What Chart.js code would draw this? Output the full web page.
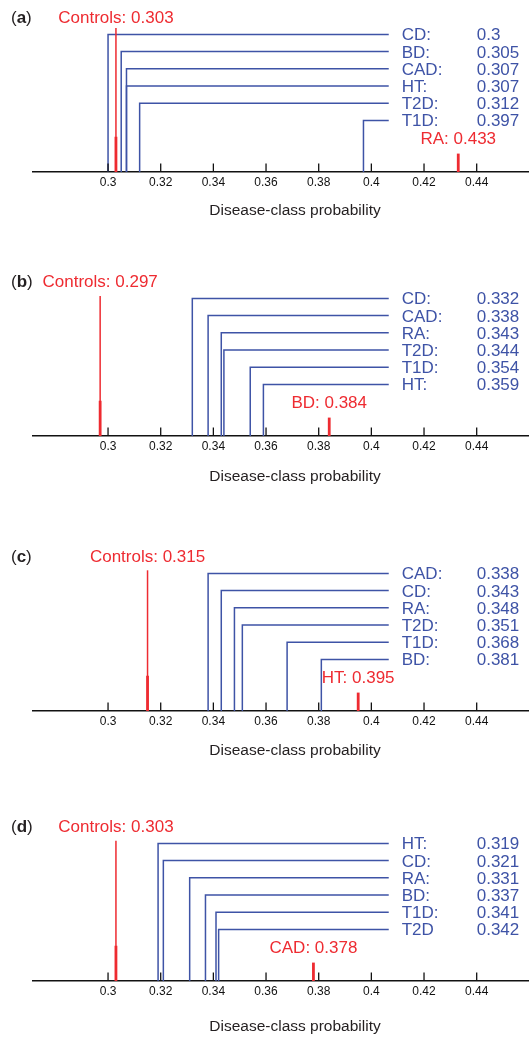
<!DOCTYPE html>
<html>
<head>
<meta charset="utf-8">
<script src="https://cdn.jsdelivr.net/npm/chart.js@4.4.1/dist/chart.umd.min.js"></script>
<style>
  html, body { margin: 0; padding: 0; background: #fff; }
  #page { position: relative; width: 529px; height: 1037px; overflow: hidden; }
  #page canvas { position: absolute; left: 0; }
</style>
</head>
<body>
<div id="page">
  <canvas id="panel-0" width="560" height="242" style="top:0px"></canvas>
  <canvas id="panel-1" width="560" height="242" style="top:264px"></canvas>
  <canvas id="panel-2" width="560" height="242" style="top:539px"></canvas>
  <canvas id="panel-3" width="560" height="242" style="top:809px"></canvas>
</div>
<script>
// x axis
const tickValues = [0.3, 0.32, 0.34, 0.36, 0.38, 0.4, 0.42, 0.44];
const tickLabels = ['0.3', '0.32', '0.34', '0.36', '0.38', '0.4', '0.42', '0.44'];
const axisTitle = 'Disease-class probability';
const xMin = 0.2715;
const xMax = 0.4705;
const bracketEnd = 0.4066;

// panel letters
const panelTags = ['a', 'b', 'c', 'd'];

// controls (red) in each panel
const controlsValues = [0.303, 0.297, 0.315, 0.303];
const controlsLineTop = [8.37, 8.14, 8.18, 8.16];

// best scoring class (red) in each panel
const topNames = ['RA', 'BD', 'HT', 'CAD'];
const topValues = [0.433, 0.384, 0.395, 0.378];

// remaining classes (blue), top to bottom
const namesA = ['CD:', 'BD:', 'CAD:', 'HT:', 'T2D:', 'T1D:'];
const valuesA = [0.3, 0.305, 0.307, 0.307, 0.312, 0.397];
const namesB = ['CD:', 'CAD:', 'RA:', 'T2D:', 'T1D:', 'HT:'];
const valuesB = [0.332, 0.338, 0.343, 0.344, 0.354, 0.359];
const namesC = ['CAD:', 'CD:', 'RA:', 'T2D:', 'T1D:', 'BD:'];
const valuesC = [0.338, 0.343, 0.348, 0.351, 0.368, 0.381];
const namesD = ['HT:', 'CD:', 'RA:', 'BD:', 'T1D:', 'T2D'];
const valuesD = [0.319, 0.321, 0.331, 0.337, 0.341, 0.342];

const classNames = [namesA, namesB, namesC, namesD];
const classValues = [valuesA, valuesB, valuesC, valuesD];

// title spacing per panel
const titlePad = [21.7, 20, 21.4, 15];

const RED = '#ee2b31';
const BLUE = '#3e53a6';
const FONT = '"Liberation Sans", Arial, Helvetica, sans-serif';

function textAt(ctx, text, x, cy, size, color, align, weight) {
    // cy is the middle of the capitals
    ctx.font = (weight || 'normal') + ' ' + size + 'px ' + FONT;
    ctx.fillStyle = color;
    ctx.textAlign = align || 'left';
    ctx.textBaseline = 'alphabetic';
    ctx.fillText(text, x, cy + size * 0.716 / 2);
}

const labelPlugin = {
    id: 'classLabels',
    afterDraw(chart, args, opts) {
        const ctx = chart.ctx;
        const xs = chart.scales.x;
        const ys = chart.scales.y;
        const p = opts.panel;
        const axisY = ys.getPixelForValue(0);
        ctx.save();

        // tick marks pointing up
        ctx.strokeStyle = '#111';
        ctx.lineWidth = 1.3;
        xs.ticks.forEach(t => {
            const px = xs.getPixelForValue(t.value);
            ctx.beginPath();
            ctx.moveTo(px, axisY);
            ctx.lineTo(px, axisY - 8.5);
            ctx.stroke();
        });

        // panel tag "(a)"
        const tagY = ys.getPixelForValue(9.0);
        let tx = 11;
        ctx.font = '17px ' + FONT;
        textAt(ctx, '(', tx, tagY, 17, '#231f20');
        tx += ctx.measureText('(').width;
        textAt(ctx, panelTags[p], tx, tagY, 17, '#231f20', 'left', 'bold');
        tx += ctx.measureText(panelTags[p]).width;
        textAt(ctx, ')', tx, tagY, 17, '#231f20');

        // red labels
        textAt(ctx, 'Controls: ' + controlsValues[p], xs.getPixelForValue(controlsValues[p]), tagY, 17, RED, 'center');
        textAt(ctx, topNames[p] + ': ' + topValues[p], xs.getPixelForValue(topValues[p]), ys.getPixelForValue(1.97), 17, RED, 'center');

        // blue labels
        const nameX = xs.getPixelForValue(bracketEnd) + 13;
        classNames[p].forEach((n, i) => {
            const cy = ys.getPixelForValue(8 - i);
            textAt(ctx, n, nameX, cy, 17, BLUE, 'left');
            textAt(ctx, String(classValues[p][i]), nameX + 75, cy, 17, BLUE, 'left');
        });
        ctx.restore();
    }
};

function makePanel(p) {
    const datasets = [];
    // red marks first so they sit on top
    datasets.push({
        data: [{x: controlsValues[p], y: 0}, {x: controlsValues[p], y: controlsLineTop[p]}],
        borderColor: RED, borderWidth: 1.5
    });
    datasets.push({
        data: [{x: controlsValues[p], y: 0}, {x: controlsValues[p], y: 2.05}],
        borderColor: RED, borderWidth: 2.8
    });
    datasets.push({
        data: [{x: topValues[p], y: 0}, {x: topValues[p], y: 1.07}],
        borderColor: RED, borderWidth: 2.8
    });
    classValues[p].forEach((v, i) => {
        const level = 8 - i;
        datasets.push({
            data: [{x: v, y: 0}, {x: v, y: level}, {x: bracketEnd, y: level}],
            borderColor: BLUE, borderWidth: 1.5
        });
    });

    new Chart(document.getElementById('panel-' + p), {
        type: 'scatter',
        data: { datasets: datasets },
        plugins: [labelPlugin],
        options: {
            responsive: false,
            animation: false,
            events: [],
            layout: { padding: { left: 33, right: 3, top: 0, bottom: 0 } },
            datasets: {
                scatter: {
                    showLine: true,
                    pointRadius: 0,
                    borderCapStyle: 'butt',
                    borderJoinStyle: 'miter',
                    tension: 0
                }
            },
            plugins: {
                legend: { display: false },
                tooltip: { enabled: false },
                classLabels: { panel: p }
            },
            scales: {
                x: {
                    type: 'linear',
                    min: xMin,
                    max: xMax,
                    afterBuildTicks: scale => {
                        scale.ticks = tickValues.map(v => ({ value: v }));
                    },
                    afterFit: scale => { scale.height = 70; },
                    grid: { display: false, drawTicks: false, tickLength: 0 },
                    border: { display: true, color: '#111', width: 1.5 },
                    ticks: {
                        padding: 3,
                        color: '#111',
                        font: { family: FONT, size: 12 },
                        maxRotation: 0,
                        autoSkip: false,
                        callback: (value, index) => tickLabels[index]
                    },
                    title: {
                        display: true,
                        text: axisTitle,
                        color: '#231f20',
                        font: { family: FONT, size: 15.5 },
                        padding: { top: 0, bottom: titlePad[p] }
                    }
                },
                y: {
                    type: 'linear',
                    display: false,
                    min: 0,
                    max: 10
                }
            }
        }
    });
}

[0, 1, 2, 3].forEach(makePanel);
</script>
</body>
</html>
